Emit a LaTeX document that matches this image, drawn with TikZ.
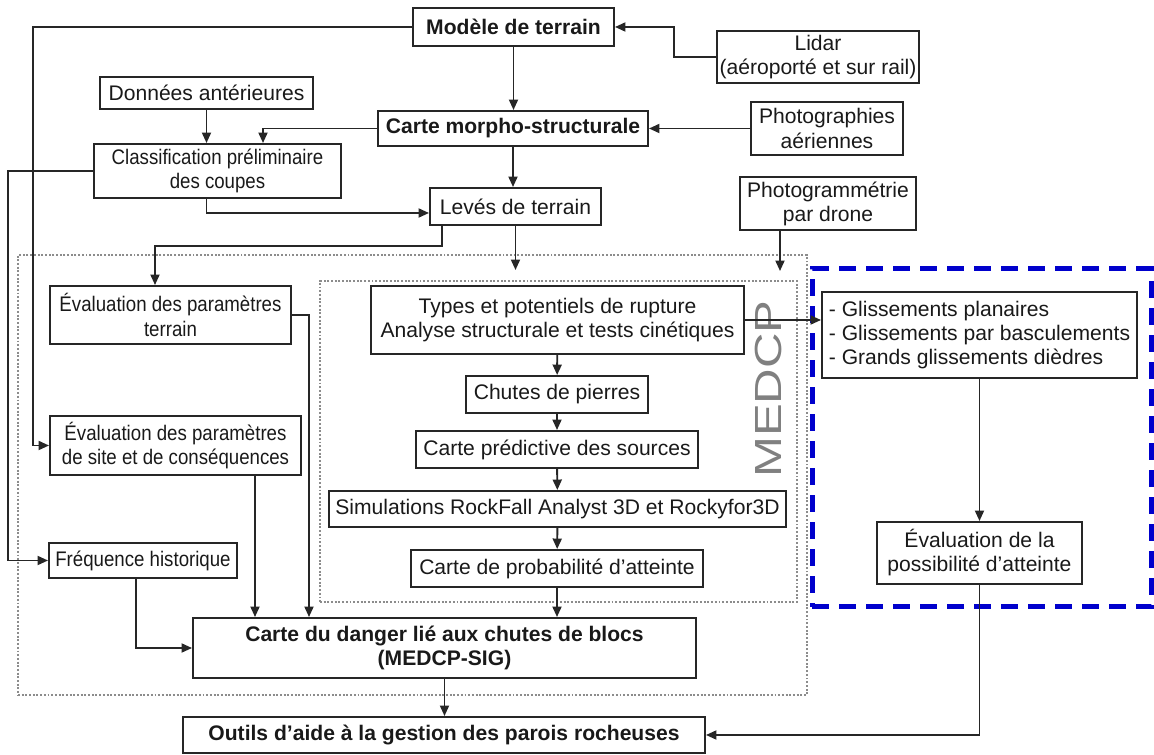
\documentclass[tikz,border=0pt]{standalone}
\usepackage{fontspec}
\setmainfont{Liberation Sans}
\newfontfamily\narrowfont[FakeStretch=0.885]{Liberation Sans}
\usetikzlibrary{arrows.meta}

\tikzset{
    wh/.style 2 args={minimum width=#1*0.2mm, minimum height=#2*0.2mm}
}

\begin{document}
\begin{tikzpicture}[
    x=0.2mm, y=-0.2mm,
    >={Triangle[length=2.1mm, width=1.8mm]},
    box/.style={draw=black!85, line width=1.1pt, align=center, inner xsep=0.5mm, inner ysep=0.5mm, text=black!90, font=\fontsize{12}{13.7}\selectfont},
    bold/.style={box, font=\fontsize{12}{13.7}\selectfont\bfseries},
    narrow/.style={box, font=\fontsize{12}{13.7}\selectfont\narrowfont},
    zone/.style={draw=black!45, densely dotted, line width=1.1pt},
    link/.style={->, draw=black!85, line width=1.1pt}
]
    \useasboundingbox (0,0) rectangle (1154,755);

    % Dotted areas and the dashed slide area
    \node[zone, wh={789}{440}] (outer) at (412.5,475) {};
    \node[zone, wh={477}{321}] (medcp) at (558.5,441.5) {};
    \node[draw=blue!80!black, dash pattern=on 3.4mm off 2mm, line width=1mm, wh={339}{338}] (slides) at (981.5,438) {};
    \node[rotate=90, xscale=1.3, text=black!50, font=\fontsize{21.5}{22}\selectfont] (medcplabel) at (768,389) {MEDCP};

    % Data sources
    \node[bold, wh={201}{38}] (model) at (513.5,27) {Modèle de terrain};
    \node[box, wh={202}{52}] (lidar) at (818,57) {Lidar\\(aéroporté et sur rail)};
    \node[box, wh={213}{32}] (donnees) at (206.5,93) {Données antérieures};
    \node[bold, wh={270}{35}] (morpho) at (513,128.5) {Carte morpho-structurale};
    \node[box, wh={152}{53}] (photos) at (827,128.5) {Photographies\\aériennes};
    \node[narrow, wh={247}{54}] (classif) at (217.5,171) {Classification préliminaire\\des coupes};
    \node[box, wh={171}{37}] (leves) at (515.5,206.5) {Levés de terrain};
    \node[box, wh={176}{53}] (drone) at (828,203.5) {Photogrammétrie\\par drone};

    % Left column
    \node[narrow, wh={241}{58}] (evterrain) at (170.5,315) {Évaluation des paramètres\\terrain};
    \node[narrow, wh={251}{59}] (evsite) at (175.5,445.5) {Évaluation des paramètres\\de site et de conséquences};
    \node[narrow, wh={188}{35}] (freq) at (143,560.5) {Fréquence historique};

    % MEDCP chain
    \node[box, wh={373}{68}] (types) at (557.5,320) {Types et potentiels de rupture\\Analyse structurale et tests cinétiques};
    \node[box, wh={182}{37}] (chutes) at (557,394.5) {Chutes de pierres};
    \node[box, wh={282}{37}] (predict) at (557,449.5) {Carte prédictive des sources};
    \node[box, wh={457}{36}] (simul) at (557.5,509) {Simulations RockFall Analyst 3D et Rockyfor3D};
    \node[box, wh={292}{37}] (proba) at (557,568.5) {Carte de probabilité d’atteinte};

    % Slides
    \node[box, wh={315}{86}, align=left] (gliss) at (979.5,335) {- Glissements planaires\\- Glissements par basculements\\- Grands glissements dièdres};
    \node[box, wh={205}{62}] (possib) at (979.5,553) {Évaluation de la\\possibilité d’atteinte};

    % Results
    \node[bold, wh={503}{60}] (danger) at (444.5,648) {Carte du danger lié aux chutes de blocs\\(MEDCP-SIG)};
    \node[bold, wh={522}{36}] (outils) at (444,735) {Outils d’aide à la gestion des parois rocheuses};

    % Top part
    \draw[link] (lidar.west) -- ++(-42,0) |- (model.east);
    \draw[link] (model.south) -- (model.south |- morpho.north);
    \draw[link] (photos.west) -- (morpho.east);
    \draw[link] (morpho.west) -| (263,0 |- classif.north);
    \draw[link] (donnees.south) -- (donnees.south |- classif.north);
    \draw[link] (donnees.south |- classif.south) |- ([yshift=-1.3mm]leves.west);
    \draw[link] (morpho.south) -- (morpho.south |- leves.north);
    \draw[link, shorten >=2mm] (leves.south) -- (leves.south |- medcp.north);
    \draw[link, shorten >=1.8mm] (780,0 |- drone.south) -- (780,0 |- medcp.north);
    \draw[link] ([xshift=2.6mm]leves.south west) -- ++(0,20) -| ([xshift=-3.1mm]evterrain.north);

    % Long lines on the left
    \draw[link] (model.west) -| (33,0 |- evsite.west) -- (evsite.west);
    \draw[link] (classif.west) -| (8,0 |- freq.west) -- (freq.west);

    % Into the hazard map
    \draw[link] (evterrain.east) -| (309,0 |- danger.north);
    \draw[link] (255,0 |- evsite.south) -- (255,0 |- danger.north);
    \draw[link] ([xshift=-1.4mm]freq.south) |- (danger.west);
    \draw[link] (proba.south) -- (proba.south |- danger.north);

    \foreach \a/\b in {types/chutes, chutes/predict, predict/simul, simul/proba}
        \draw[link] (\a) -- (\b);

    % Slides branch
    \draw[link] (types.east) -- (types.east -| gliss.west);
    \draw[link] (gliss.south) -- (gliss.south |- possib.north);
    \draw[link] (possib.south) |- (outils.east);
    \draw[link] (danger.south) -- (danger.south |- outils.north);

\end{tikzpicture}
\end{document}
